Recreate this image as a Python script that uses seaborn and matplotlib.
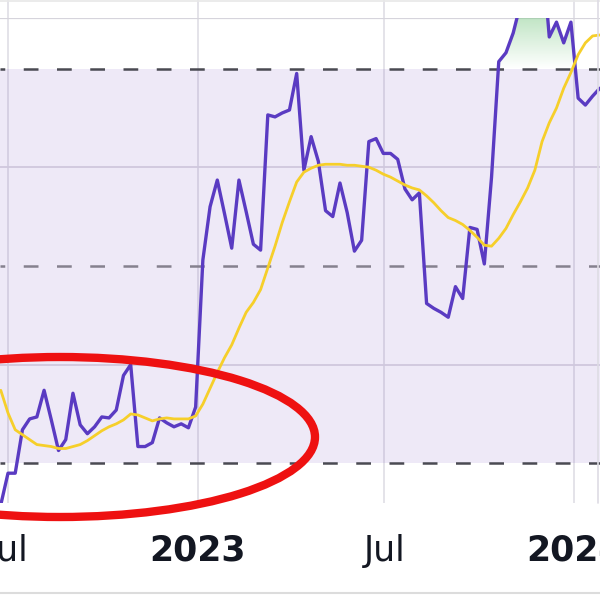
import numpy as np
import pandas as pd
import matplotlib.pyplot as plt
import matplotlib.dates as mdates
from matplotlib.patches import Ellipse
from matplotlib.lines import Line2D
from matplotlib.path import Path
import seaborn as sns

# weekly RSI values
dates = pd.date_range("2022-06-24", periods=84, freq="7D")
rsi = [25.8, 29.0, 29.0, 33.4, 34.5, 34.7, 37.4, 34.4, 31.3, 32.4,
       37.1, 33.9, 33.0, 33.7, 34.7, 34.6, 35.4, 38.9, 40.0, 31.7,
       31.7, 32.1, 34.6, 34.1, 33.7, 34.0, 33.6, 35.7, 50.6, 56.0,
       58.7, 55.3, 51.8, 58.7, 55.5, 52.2, 51.6, 65.3, 65.1, 65.5,
       65.8, 69.5, 59.7, 63.1, 60.6, 55.6, 55.0, 58.4, 55.4, 51.5,
       52.6, 62.6, 62.9, 61.4, 61.4, 60.8, 57.8, 56.7, 57.4, 46.2,
       45.7, 45.3, 44.8, 47.9, 46.7, 53.9, 53.7, 50.2, 59.0, 70.7,
       71.6, 73.6, 76.5, 79.0, 81.0, 82.0, 73.2, 74.7, 72.6, 74.7,
       67.0, 66.3, 67.2, 68.0]
rsi_ma = [37.4, 35.1, 33.4, 32.9, 32.4, 31.9, 31.8, 31.7, 31.5, 31.5,
          31.7, 31.9, 32.3, 32.8, 33.3, 33.7, 34.0, 34.4, 35.0, 34.9,
          34.6, 34.3, 34.5, 34.6, 34.5, 34.5, 34.5, 34.8, 36.0, 37.6,
          39.2, 40.7, 42.0, 43.7, 45.3, 46.3, 47.6, 49.8, 52.0, 54.4,
          56.5, 58.5, 59.5, 59.9, 60.2, 60.3, 60.3, 60.3, 60.2, 60.2,
          60.1, 60.0, 59.7, 59.3, 59.0, 58.6, 58.2, 57.9, 57.7, 57.1,
          56.4, 55.6, 54.9, 54.6, 54.2, 53.6, 52.9, 52.1, 52.0, 52.8,
          53.8, 55.2, 56.5, 57.9, 59.7, 62.6, 64.5, 66.0, 68.0, 69.6,
          71.4, 72.6, 73.3, 73.4]

tick_dates = pd.to_datetime(["2022-07-01", "2023-01-01", "2023-07-01", "2024-01-01"])
tick_labels = ["Jul", "2023", "Jul", "2024"]
upper, middle, lower = 70, 50, 30

purple = "#5a3bc2"
yellow = "#f6cf2a"

sns.set_style("white")
plt.rcParams["font.family"] = ["DejaVu Sans"]

fig = plt.figure(figsize=(6, 6), dpi=100)
ax = fig.add_axes([0, 97 / 600, 1, 485 / 600])
top = fig.add_axes([0, 582 / 600, 1, 18 / 600])

x_left = pd.Timestamp("2022-07-01") - pd.Timedelta(days=8 / 1.031)
x_right = x_left + pd.Timedelta(days=600 / 1.031)
y_lo, y_hi = 25.98, 75.12

# band and level lines
ax.axhspan(lower, upper, color="#7e57c2", alpha=0.13, lw=0, zorder=1)
ax.axhline(upper, color="#4a4a52", lw=1.8, linestyle=(4.0, (5.9, 7.4)), zorder=2)
ax.axhline(lower, color="#4a4a52", lw=1.8, linestyle=(4.0, (5.9, 7.4)), zorder=2)
ax.axhline(middle, color="#85818e", lw=1.8, linestyle=(4.0, (5.9, 7.4)), zorder=2)

# green gradient above the upper band
poly = ax.fill_between(dates, rsi, upper, where=np.array(rsi) > upper,
                       interpolate=True, facecolor="none", edgecolor="none")
grad = np.zeros((100, 1, 4))
grad[:, 0, 0] = 0.52
grad[:, 0, 1] = 0.80
grad[:, 0, 2] = 0.55
grad[:, 0, 3] = np.linspace(0.0, 0.5, 100)
im = ax.imshow(grad, extent=[mdates.date2num(x_left), mdates.date2num(x_right), upper, y_hi],
               origin="lower", aspect="auto", zorder=3)
clip = Path.make_compound_path(*poly.get_paths())
im.set_clip_path(clip, transform=ax.transData)

sns.lineplot(x=dates, y=rsi, ax=ax, color=purple, lw=2.4, zorder=4)
sns.lineplot(x=dates, y=rsi_ma, ax=ax, color=yellow, lw=2.0, zorder=5)

for a in (ax, top):
    a.set_xlim(x_left, x_right)
    a.set_xticks(tick_dates)
    a.grid(axis="x", color="#e2e0e7", lw=1.3)
    a.set_axisbelow(True)
    a.set_xlabel("")
    a.set_ylabel("")
    for s in a.spines.values():
        s.set_visible(False)

ax.set_ylim(y_lo, y_hi)
ax.set_yticks([40, 60])
ax.grid(axis="y", color="#dcd9e2", lw=1.3)
ax.tick_params(axis="y", length=0, labelleft=False)
ax.spines["top"].set_visible(True)
ax.spines["top"].set_color("#d6d4dc")
ax.spines["top"].set_linewidth(1.6)

ax.set_xticklabels(tick_labels, fontsize=25, color="#131722")
for lab, txt in zip(ax.get_xticklabels(), tick_labels):
    if txt.isdigit():
        lab.set_fontweight("bold")
ax.tick_params(axis="x", length=0, pad=22)

top.set_yticks([])
top.tick_params(axis="x", length=0, labelbottom=False)

# annotation ellipse and frame lines
fig.add_artist(Ellipse((60 / 600, 1 - 437 / 600), 510 / 600, 160 / 600,
                       transform=fig.transFigure, fill=False,
                       edgecolor="#ee1111", lw=6.0, zorder=10))
fig.add_artist(Line2D([0, 1], [1 - 593 / 600] * 2, transform=fig.transFigure,
                      color="#dcdcdc", lw=1.5))
fig.add_artist(Line2D([0, 1], [1 - 1 / 600] * 2, transform=fig.transFigure,
                      color="#e8e8e8", lw=1.2))
fig.add_artist(Line2D([598 / 600] * 2, [97 / 600, 1], transform=fig.transFigure,
                      color="#dedce4", lw=1.2))

fig.savefig("out.png", dpi=100)
